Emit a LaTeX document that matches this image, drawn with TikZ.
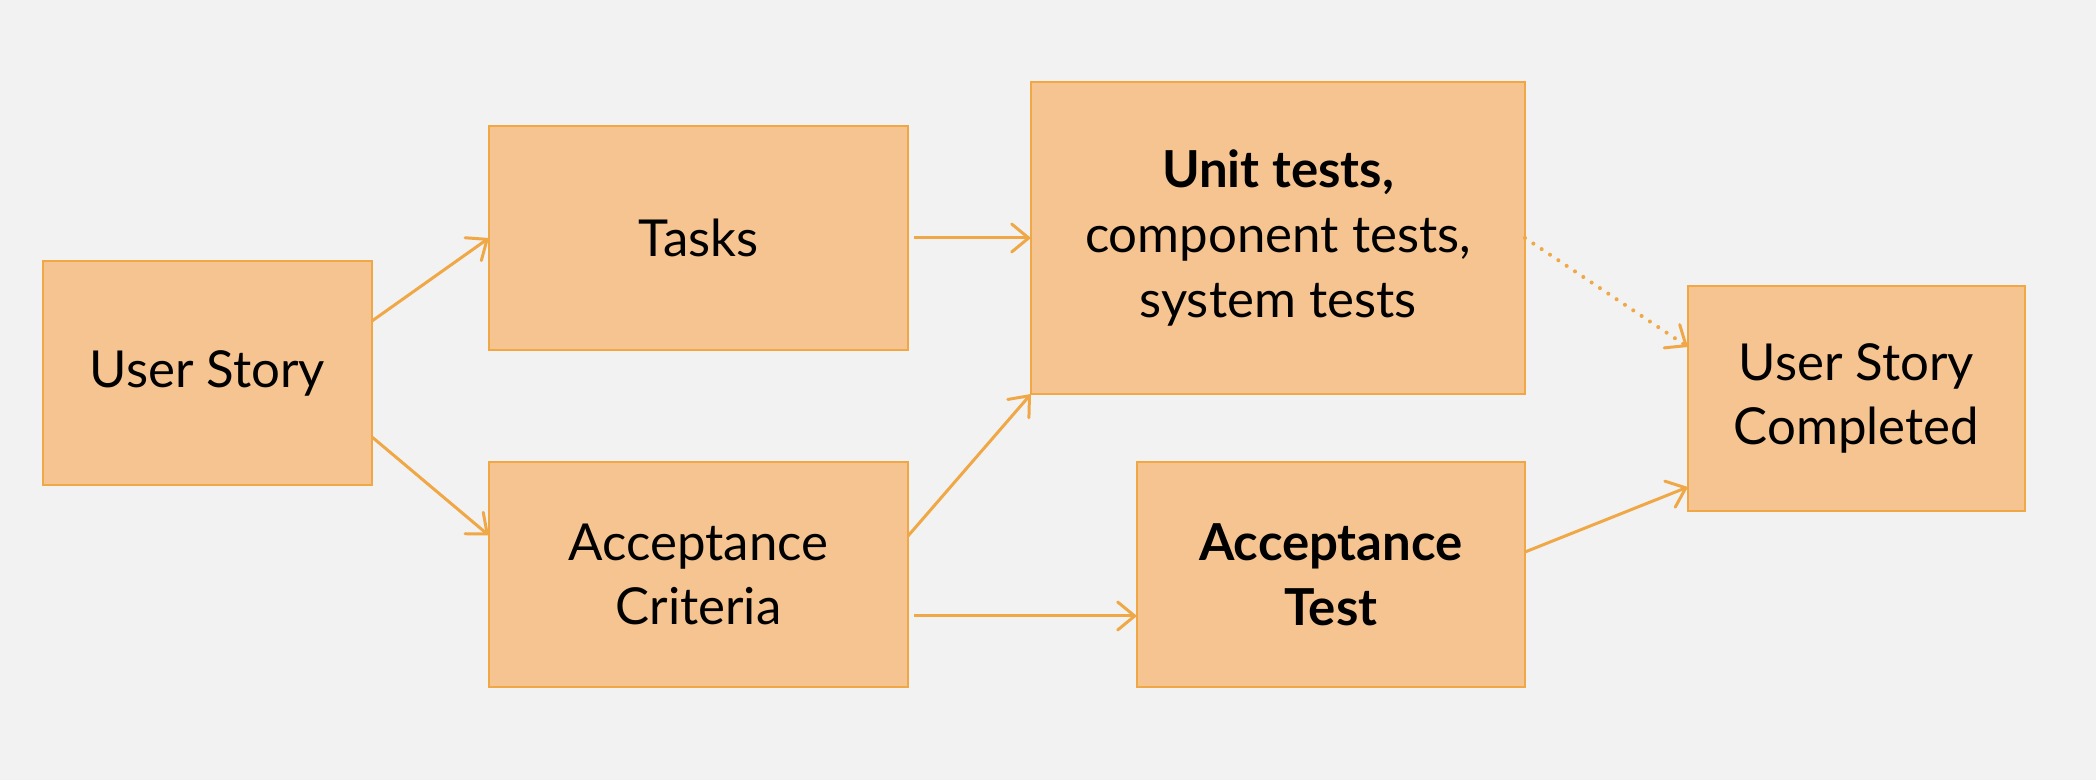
\documentclass[tikz,border=0pt]{standalone}
\usepackage{fontspec}
\setmainfont{Lato}
\usepackage{xcolor}
\usetikzlibrary{arrows.meta, positioning, calc}
\definecolor{canvas}{HTML}{F2F2F2}
\definecolor{boxfill}{HTML}{F5C490}
\definecolor{boxline}{HTML}{EFA845}

\begin{document}
\begin{tikzpicture}[
  story/.style={draw=boxline, fill=boxfill, line width=0.6pt, inner sep=0pt, outer sep=0pt,
    align=center, font=\fontsize{14.5}{18.4}\selectfont},
  link/.style={draw=boxline, line width=0.85pt, -{Straight Barb[length=1.7mm, width=2.8mm, line cap=round, line width=0.85pt]}},
  hint/.style={link, line cap=round, dash pattern=on 0pt off 2.85pt, line width=1.15pt},
]
\fill[canvas] (0,0) rectangle (20.96,7.8);
\node[story, minimum width=3.29cm, minimum height=2.24cm] (us) at (2.075,4.07) {User Story};
\node[story, minimum width=4.19cm, minimum height=2.24cm] (tasks) at (6.985,5.42) {Tasks};
\node[story, minimum width=4.19cm, minimum height=2.25cm] (crit) at (6.985,2.055) {Acceptance\\Criteria};
\node[story, minimum width=4.94cm, minimum height=3.12cm] (unit) at (12.78,5.42) {\textbf{Unit tests,}\\component tests,\\system tests};
\node[story, minimum width=3.88cm, minimum height=2.25cm] (acc) at (13.31,2.055) {\textbf{Acceptance}\\\textbf{Test}};
\node[story, minimum width=3.37cm, minimum height=2.25cm] (done) at (18.565,3.815) {User Story\\Completed};

\draw[link] ([yshift=5.2mm]us.east) -- (tasks.west);
\draw[link] ([yshift=-6.4mm]us.east) -- ([yshift=3.9mm]crit.west);
\draw[link] ([xshift=0.6mm]tasks.east) -- (unit.west);
\draw[link] ([yshift=3.85mm]crit.east) -- (unit.south west);
\draw[link] ([xshift=0.6mm, yshift=-4.15mm]crit.east) -- ([yshift=-4.15mm]acc.west);
\draw[hint] (unit.east) -- ([yshift=5.15mm]done.west);
\draw[link] ([yshift=2.25mm]acc.east) -- ([yshift=-8.85mm]done.west);
\end{tikzpicture}
\end{document}
